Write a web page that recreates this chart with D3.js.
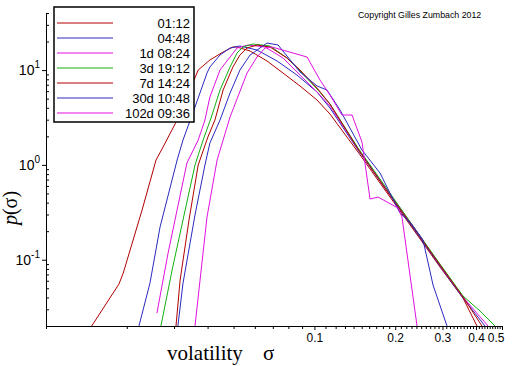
<!DOCTYPE html>
<html><head><meta charset="utf-8">
<script src="https://cdn.jsdelivr.net/npm/d3@7"></script>
<style>body{margin:0;background:#fff}svg{display:block}</style>
</head><body><svg id="c" width="512" height="366"></svg>
<script>
// ---- data (volatility sigma, density p(sigma)) ----
const seriesLabels = ["01:12","04:48","1d 08:24","3d 19:12","7d 14:24","30d 10:48","102d 09:36"];
const seriesColors = ["#b00000","#2a2ac0","#e010e0","#10b010","#b00000","#2a2ac0","#e010e0"];

const vol_0112 = [0.0148,0.0187,0.0194,0.0228,0.0257,0.0273,0.0308,0.0344,0.0369,0.0408,0.0457,0.0497,0.0515,0.0576,0.0666,0.0764,0.0884,0.1023,0.1143,0.1454,0.1832,0.2331,0.2938,0.3579,0.4035];
const p_0112   = [0.0200,0.0554,0.0724,0.3342,1.126,1.544,2.974,6.163,10.02,12.78,15.51,17.51,17.51,15.89,12.47,9.313,6.793,4.834,3.442,1.367,0.5433,0.2106,0.0837,0.0394,0.0200];

const vol_0448 = [0.0222,0.0244,0.0266,0.0308,0.0324,0.0359,0.0398,0.0408,0.0445,0.0485,0.0528,0.0611,0.0726,0.0861,0.1023,0.1143,0.1454,0.1832,0.2331,0.2938,0.3579,0.4321];
const p_0448   = [0.0200,0.0567,0.2211,1.126,1.830,4.078,9.313,10.78,14.42,17.10,17.95,16.28,12.47,8.873,5.871,3.980,1.435,0.5702,0.2159,0.0857,0.0394,0.0200];

const vol_1d = [0.0259,0.0285,0.0335,0.0369,0.0391,0.0408,0.0445,0.0485,0.0515,0.0566,0.0655,0.0764,0.0884,0.1023,0.1143,0.1454,0.1832,0.2331,0.2938,0.3579,0.4434];
const p_1d   = [0.02738,0.1176,1.047,1.830,2.974,5.200,10.02,13.74,17.10,18.39,17.51,13.41,8.873,5.871,4.179,1.471,0.5844,0.2265,0.0879,0.0404,0.0200];

const vol_3d = [0.0268,0.0295,0.0330,0.0359,0.0385,0.0412,0.0445,0.0485,0.0515,0.0542,0.0590,0.0683,0.0791,0.0884,0.1023,0.1143,0.1454,0.1832,0.2331,0.2938,0.3579,0.4140,0.4710];
const p_3d   = [0.0200,0.0778,0.3342,0.997,1.830,3.122,6.163,10.78,15.14,17.51,18.84,17.95,13.41,9.775,6.314,4.386,1.507,0.5985,0.2265,0.0900,0.0414,0.0288,0.0200];

const vol_7d = [0.0305,0.0316,0.0341,0.0369,0.0401,0.0426,0.0457,0.0497,0.0528,0.0561,0.0611,0.0683,0.0791,0.0884,0.1023,0.1143,0.1454,0.1832,0.2331,0.2938,0.3579,0.4211];
const p_7d   = [0.0200,0.0610,0.2621,0.997,1.968,2.974,6.163,10.78,14.42,17.10,18.39,17.51,13.41,10.02,6.470,4.386,1.471,0.5702,0.2211,0.0879,0.0404,0.0200];

const vol_30d = [0.0310,0.0324,0.0359,0.0391,0.0408,0.0445,0.0485,0.0528,0.0576,0.0627,0.0666,0.0732,0.0884,0.1023,0.1114,0.1246,0.1504,0.1756,0.1912,0.2084,0.2271,0.2432,0.2539,0.2767,0.3119];
const p_30d   = [0.0200,0.0567,0.2961,0.997,1.701,2.974,5.729,10.02,14.42,17.10,19.30,18.39,9.540,6.793,6.163,3.792,1.435,0.8209,0.5051,0.3106,0.2497,0.1911,0.1612,0.0541,0.0200];

const vol_102d = [0.0359,0.0398,0.0434,0.0485,0.0561,0.0611,0.0655,0.0695,0.0832,0.0939,0.1049,0.1143,0.1267,0.1381,0.1504,0.1612,0.1726,0.2049,0.2120,0.2412];
const p_102d   = [0.0200,0.2819,1.126,3.200,9.313,13.74,17.10,17.51,15.14,13.74,7.857,5.459,3.359,3.359,1.743,0.4366,0.4583,0.3509,0.2819,0.0200];

const xMajorTicks = [0.1,0.2,0.3,0.4,0.5];
const yMajorExponents = [1,0,-1];
const xDomain = [0.01,0.5];
const yDomain = [0.02,40];

// ---- build ----
const vols = [vol_0112,vol_0448,vol_1d,vol_3d,vol_7d,vol_30d,vol_102d];
const dens = [p_0112,p_0448,p_1d,p_3d,p_7d,p_30d,p_102d];
const series = seriesLabels.map((name,i)=>({name,color:seriesColors[i],pts:vols[i].map((v,j)=>[v,dens[i][j]])}));

const svg = d3.select("#c");
const X0=46, X1=502, Y0=326, Y1=13;
const x = d3.scaleLog().domain(xDomain).range([X0,X1]);
const y = d3.scaleLog().domain(yDomain).range([Y0,Y1]);

svg.append("rect").attr("width",512).attr("height",366).attr("fill","#fff");

svg.append("defs").append("clipPath").attr("id","clip")
  .append("rect").attr("x",X0).attr("y",Y1).attr("width",X1-X0+2).attr("height",Y0-Y1);

// x ticks
const xMinor = d3.range(1,51).map(k=>k/100).filter(v=>!xMajorTicks.some(m=>Math.abs(m-v)<1e-9));
const gx = svg.append("g").attr("transform",`translate(0,${Y0})`);
gx.call(d3.axisBottom(x).tickValues(xMinor).tickSize(3).tickSizeOuter(0).tickFormat(""));
const gx2 = svg.append("g").attr("transform",`translate(0,${Y0})`);
gx2.call(d3.axisBottom(x).tickValues(xMajorTicks).tickSize(4).tickSizeOuter(0).tickPadding(3).tickFormat(d3.format(".1f")));
gx2.selectAll("text").attr("font-family","Liberation Sans, Arial, sans-serif").attr("font-size",12).attr("fill","#000");
gx2.selectAll(".tick").filter(d=>d===0.5).select("text").attr("text-anchor","end").attr("x",2);
[gx,gx2].forEach(g=>{g.selectAll("line").attr("stroke","#000");g.select(".domain").attr("stroke","#000");});

// y ticks
const yMinor = [];
[-2,-1,0,1].forEach(e=>{for(let k=2;k<=9;k++){const v=k*Math.pow(10,e); if(v>=yDomain[0]-1e-9 && v<=yDomain[1]+1e-9) yMinor.push(v);}});
const gy = svg.append("g").attr("transform",`translate(${X0},0)`);
gy.call(d3.axisRight(y).tickValues(yMinor).tickSize(3).tickSizeOuter(0).tickFormat(""));
const gy2 = svg.append("g").attr("transform",`translate(${X0},0)`);
gy2.call(d3.axisLeft(y).tickValues(yMajorExponents.map(e=>Math.pow(10,e))).tickSize(4).tickSizeOuter(0).tickFormat(""));
[gy,gy2].forEach(g=>{g.selectAll("line").attr("stroke","#000");g.select(".domain").attr("stroke","#000");});
yMajorExponents.forEach(e=>{
  const t = svg.append("text").attr("x",40).attr("y",y(Math.pow(10,e))+5)
    .attr("text-anchor","end").attr("font-family","Liberation Sans, Arial, sans-serif").attr("font-size",14);
  t.append("tspan").text("10");
  t.append("tspan").attr("dy",-7).attr("font-size",10).text(String(e));
});

// curves
const line = d3.line().x(d=>x(d[0])).y(d=>y(d[1]));
const gc = svg.append("g").attr("clip-path","url(#clip)");
series.forEach(s=>{
  gc.append("path").attr("d",line(s.pts)).attr("fill","none").attr("stroke",s.color).attr("stroke-width",1);
});

// legend
const lg = svg.append("g");
lg.append("rect").attr("x",54).attr("y",7).attr("width",140).attr("height",115)
  .attr("fill","#fff").attr("stroke","#000").attr("stroke-width",1.5);
series.forEach((s,i)=>{
  const yy = 23 + i*15;
  lg.append("line").attr("x1",57).attr("x2",113).attr("y1",yy).attr("y2",yy).attr("stroke",s.color).attr("stroke-width",1);
  lg.append("text").attr("x",190).attr("y",yy+5).attr("text-anchor","end")
    .attr("font-family","Liberation Sans, Arial, sans-serif").attr("font-size",13).text(s.name);
});

// titles
svg.append("text").attr("x",358).attr("y",18).attr("font-family","Liberation Sans, Arial, sans-serif")
  .attr("font-size",8.8).text("Copyright Gilles Zumbach 2012");
svg.append("text").attr("x",167).attr("y",360).attr("font-family","Liberation Serif, Times New Roman, serif")
  .attr("font-size",21).text("volatility");
svg.append("text").attr("x",263).attr("y",360).attr("font-family","Liberation Serif, Times New Roman, serif")
  .attr("font-size",21).text("σ");
const yt = svg.append("text").attr("transform","translate(17,208) rotate(-90)").attr("text-anchor","middle")
  .attr("font-family","Liberation Serif, Times New Roman, serif").attr("font-size",20);
yt.append("tspan").attr("font-style","italic").text("p");
yt.append("tspan").text("(σ)");
</script></body></html>
